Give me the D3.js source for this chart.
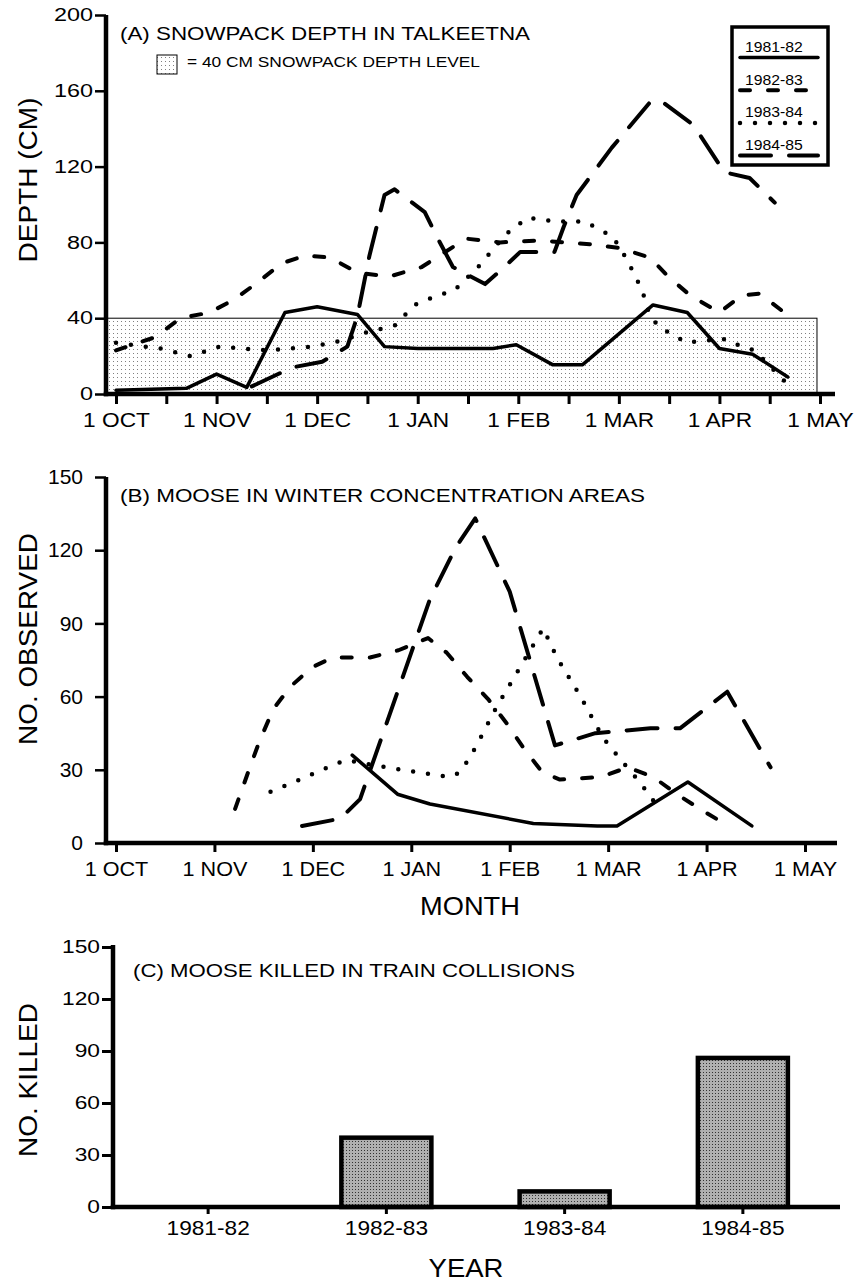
<!DOCTYPE html>
<html>
<head>
<meta charset="utf-8">
<script src="https://cdn.jsdelivr.net/npm/d3@7"></script>
<style>
body{margin:0;background:#fff}
text{font-family:"Liberation Sans",Arial,Helvetica,sans-serif;fill:#000}
</style>
</head>
<body>
<svg id="chart" width="859" height="1283"></svg>
<script>
// x position is months after 1 OCT (0 = 1 OCT ... 7 = 1 MAY)
const monthLabels = ["1 OCT","1 NOV","1 DEC","1 JAN","1 FEB","1 MAR","1 APR","1 MAY"];
const seasons = ["1981-82","1982-83","1983-84","1984-85"];
const depthTicks = [0,40,80,120,160,200];
const countTicks = [0,30,60,90,120,150];
const snowLevel = 40;

// (A) snowpack depth (cm)
const depth8182 = [[0,2],[0.7,3],[1.0,10.5],[1.3,3.5],[1.68,43],[2.0,46],[2.4,42],[2.67,25],[3.0,24],[3.75,24],[3.98,26],[4.34,15.5],[4.64,15.5],[5.34,47],[5.68,43],[6.0,24],[6.33,21],[6.68,9]];
const depth8283 = [[0,23],[0.39,30],[0.64,40],[0.93,43],[1.18,50],[1.41,59],[1.65,69],[1.88,73],[2.13,72],[2.4,64],[2.72,62],[3.04,67],[3.48,82],[3.82,80],[4.21,81],[4.71,79],[5.01,77],[5.31,72],[5.49,62],[5.71,52],[6.0,43],[6.22,52],[6.4,53],[6.67,42]];
const depth8384 = [[0,27],[0.44,24],[0.74,20],[1.03,25],[1.5,23],[1.95,25],[2.23,28],[2.52,33],[2.77,36],[2.97,47],[3.1,50],[3.37,55],[3.6,67],[3.87,84],[4.09,93],[4.38,91],[4.66,91],[4.94,83],[5.08,71],[5.23,55],[5.31,41],[5.41,35],[5.68,27],[5.79,28],[6.07,29],[6.22,25],[6.35,23],[6.68,5]];
const depth8485 = [[1.35,4],[1.75,14],[2.05,17],[2.3,25],[2.4,41],[2.52,73],[2.67,105],[2.77,108],[3.07,96],[3.19,83],[3.35,67],[3.67,58],[3.84,66],[4.02,75],[4.36,75],[4.45,88],[4.58,105],[4.93,130],[5.31,154],[5.41,155],[5.74,142],[6.05,117],[6.3,114],[6.55,101]];

// (B) moose observed in winter concentration areas
const moose8182 = [[2.4,36],[2.63,28],[2.86,20],[3.19,16],[4.24,8],[4.89,7],[5.09,7],[5.81,25],[6.46,7]];
const moose8283 = [[1.21,14],[1.36,31],[1.46,42],[1.6,55],[1.77,64],[1.99,72],[2.2,76],[2.58,76],[2.87,79],[3.17,84],[3.36,78],[3.57,68],[3.78,59],[3.97,49],[4.14,39],[4.33,29],[4.51,26],[4.92,27],[5.2,31],[5.46,27],[5.7,20],[5.93,14],[6.22,7]];
const moose8384 = [[1.57,21],[1.87,26],[2.15,31],[2.33,34],[2.75,31],[3.07,29],[3.39,27],[3.5,29],[3.65,39],[3.87,56],[4.12,73],[4.34,88],[4.48,76],[4.72,60],[4.95,43],[5.13,34],[5.32,25],[5.52,14]];
const moose8485 = [[1.89,7],[2.28,10],[2.48,18],[3.19,100],[3.45,121],[3.65,133],[4.0,103],[4.46,40],[4.87,45],[5.43,47],[5.73,47],[6.21,62],[6.65,31]];

// (C) moose killed in train collisions
const killed = [0, 40, 9, 86];

const depthSeries = [depth8182, depth8283, depth8384, depth8485];
const mooseSeries = [moose8182, moose8283, moose8384, moose8485];

// line look for each season
const styles = [
    {dash: null, w: 3.5},
    {dash: "10,18", w: 4},
    {dash: "0,15", w: 4.5},
    {dash: "31,18", w: 4}
];

const svg = d3.select("#chart");
const defs = svg.append("defs");

// stipple fills:
let pA = defs.append("pattern").attr("id", "stipA")
    .attr("patternUnits", "userSpaceOnUse").attr("width", 4).attr("height", 4);
pA.append("rect").attr("width", 4).attr("height", 4).attr("fill", "#fff");
pA.append("rect").attr("x", 1).attr("y", 1).attr("width", 1).attr("height", 1).attr("fill", "#808080");

let pC = defs.append("pattern").attr("id", "stipC")
    .attr("patternUnits", "userSpaceOnUse").attr("width", 3).attr("height", 3);
pC.append("rect").attr("width", 3).attr("height", 3).attr("fill", "#b0b0b0");
pC.append("rect").attr("x", 1).attr("y", 1).attr("width", 1).attr("height", 1).attr("fill", "#333");

function stretch(sel, k) {
    sel.each(function () {
        let w = this.getComputedTextLength();
        d3.select(this).attr("textLength", w * k).attr("lengthAdjust", "spacingAndGlyphs");
    });
}

function label(txt, x, y, size, opts) {
    opts = opts || {};
    let t = svg.append("text").attr("font-size", size).text(txt);
    if (opts.rotate) t.attr("transform", `translate(${x},${y}) rotate(-90)`);
    else t.attr("x", x).attr("y", y);
    if (opts.anchor) t.attr("text-anchor", opts.anchor);
    if (opts.len) t.attr("textLength", opts.len).attr("lengthAdjust", "spacingAndGlyphs");
    if (opts.k) stretch(t, opts.k);
    return t;
}

function styleAxis(g, size, k, tickW, textY) {
    g.select(".domain").remove();
    g.attr("font-size", size);
    g.selectAll(".tick line").attr("stroke", "#000").attr("stroke-width", tickW);
    if (textY !== undefined) g.selectAll(".tick text").attr("y", textY).attr("dy", null);
    stretch(g.selectAll(".tick text"), k);
}

function drawSeries(data, x, y, i) {
    let line = d3.line().x(d => x(d[0])).y(d => y(d[1]));
    svg.append("path")
        .datum(data)
        .attr("d", line)
        .attr("fill", "none")
        .attr("stroke", "#000")
        .attr("stroke-width", styles[i].w)
        .attr("stroke-dasharray", styles[i].dash)
        .attr("stroke-linecap", "round")
        .attr("stroke-linejoin", "round");
}

function axisLines(x0, x1, yTop, yBot, w) {
    svg.append("line").attr("x1", x0).attr("x2", x0).attr("y1", yTop).attr("y2", yBot + w / 2)
        .attr("stroke", "#000").attr("stroke-width", w);
    svg.append("line").attr("x1", x0 - w / 2).attr("x2", x1).attr("y1", yBot).attr("y2", yBot)
        .attr("stroke", "#000").attr("stroke-width", w);
}

// ---------------- (A) snowpack depth
const xA = d3.scaleLinear().domain([0, 7]).range([116, 820]);
const yA = d3.scaleLinear().domain([0, 200]).range([394, 15]);

// 40 cm band
svg.append("rect")
    .attr("x", 106).attr("y", yA(snowLevel))
    .attr("width", xA(6.97) - 106).attr("height", yA(0) - yA(snowLevel))
    .attr("fill", "url(#stipA)").attr("stroke", "#000").attr("stroke-width", 1);

depthSeries.forEach((d, i) => drawSeries(d, xA, yA, i));

let gAy = svg.append("g").attr("transform", "translate(106,0)")
    .call(d3.axisLeft(yA).tickValues(depthTicks).tickSize(11).tickPadding(2).tickSizeOuter(0));
styleAxis(gAy, 18, 1.3, 2.5);

let gAx = svg.append("g").attr("transform", `translate(0,${yA(0)})`)
    .call(d3.axisBottom(xA).tickValues(d3.range(0, 7.5, 0.5)).tickSize(10).tickSizeOuter(0)
        .tickFormat(d => Number.isInteger(d) ? monthLabels[d] : ""));
styleAxis(gAx, 21, 1.08, 3, 33);

axisLines(106, 835, 15, yA(0), 4.5);

label("(A) SNOWPACK DEPTH IN TALKEETNA", 120, 40, 18, {len: 410});
svg.append("rect").attr("x", 157).attr("y", 55).attr("width", 20).attr("height", 19)
    .attr("fill", "url(#stipA)").attr("stroke", "#000").attr("stroke-width", 1);
label("= 40 CM SNOWPACK DEPTH LEVEL", 187, 67, 15, {len: 293});
label("DEPTH (CM)", 37, 180, 25, {rotate: true, anchor: "middle", len: 165});

// legend box
let leg = svg.append("g");
leg.append("rect").attr("x", 732).attr("y", 27).attr("width", 96).attr("height", 138)
    .attr("fill", "#fff").attr("stroke", "#000").attr("stroke-width", 3.5);
seasons.forEach((s, i) => {
    let by = 52 + i * 32.7;
    let t = leg.append("text").attr("x", 745).attr("y", by).attr("font-size", 15).text(s);
    stretch(t, 1.05);
    leg.append("line").attr("x1", 740).attr("x2", 818).attr("y1", by + 5.5).attr("y2", by + 5.5)
        .attr("stroke", "#000").attr("stroke-width", styles[i].w)
        .attr("stroke-dasharray", styles[i].dash).attr("stroke-linecap", "round");
});

// ---------------- (B) moose in winter concentration areas
const xB = d3.scaleLinear().domain([0, 7]).range([116, 805]);
const yB = d3.scaleLinear().domain([0, 150]).range([843, 477]);

mooseSeries.forEach((d, i) => drawSeries(d, xB, yB, i));

let gBy = svg.append("g").attr("transform", "translate(106,0)")
    .call(d3.axisLeft(yB).tickValues(countTicks).tickSize(11).tickPadding(12).tickSizeOuter(0));
styleAxis(gBy, 21, 1.0, 2.5);

let gBx = svg.append("g").attr("transform", `translate(0,${yB(0)})`)
    .call(d3.axisBottom(xB).tickValues(d3.range(0, 8)).tickSize(9).tickSizeOuter(0)
        .tickFormat(d => monthLabels[d]));
styleAxis(gBx, 20, 1.08, 3, 33);

axisLines(106, 837, 477, yB(0), 4.5);

label("(B) MOOSE IN WINTER CONCENTRATION AREAS", 120, 502, 19, {len: 525});
label("NO. OBSERVED", 37, 639, 25, {rotate: true, anchor: "middle", len: 212});
label("MONTH", 470, 915, 25, {anchor: "middle", k: 1.09});

// ---------------- (C) moose killed in train collisions
const xC = d3.scaleBand().domain(seasons).range([119, 832]).paddingInner(0.495).paddingOuter(0.2475);
const yC = d3.scaleLinear().domain([0, 150]).range([1207, 947]);

const barData = seasons.map((s, i) => ({season: s, n: killed[i]})).filter(d => d.n > 0);

svg.selectAll(".bar")
    .data(barData)
    .enter()
    .append("rect")
    .attr("class", "bar")
    .attr("x", d => xC(d.season))
    .attr("y", d => yC(d.n))
    .attr("width", xC.bandwidth())
    .attr("height", d => yC(0) - yC(d.n))
    .attr("fill", "url(#stipC)")
    .attr("stroke", "#000")
    .attr("stroke-width", 4.5);

let gCy = svg.append("g").attr("transform", "translate(113,0)")
    .call(d3.axisLeft(yC).tickValues(countTicks).tickSize(11).tickPadding(2).tickSizeOuter(0));
styleAxis(gCy, 18.5, 1.23, 3);

let gCx = svg.append("g").attr("transform", `translate(0,${yC(0)})`)
    .call(d3.axisBottom(xC).tickSize(7).tickSizeOuter(0));
styleAxis(gCx, 21, 1.08, 3, 28);

axisLines(113, 840, 945, yC(0), 4.5);

label("(C) MOOSE KILLED IN TRAIN COLLISIONS", 133, 977, 19, {len: 442});
label("NO. KILLED", 37, 1080, 25, {rotate: true, anchor: "middle", len: 154});
label("YEAR", 466, 1277, 25, {anchor: "middle", k: 1.1});
</script>
</body>
</html>
